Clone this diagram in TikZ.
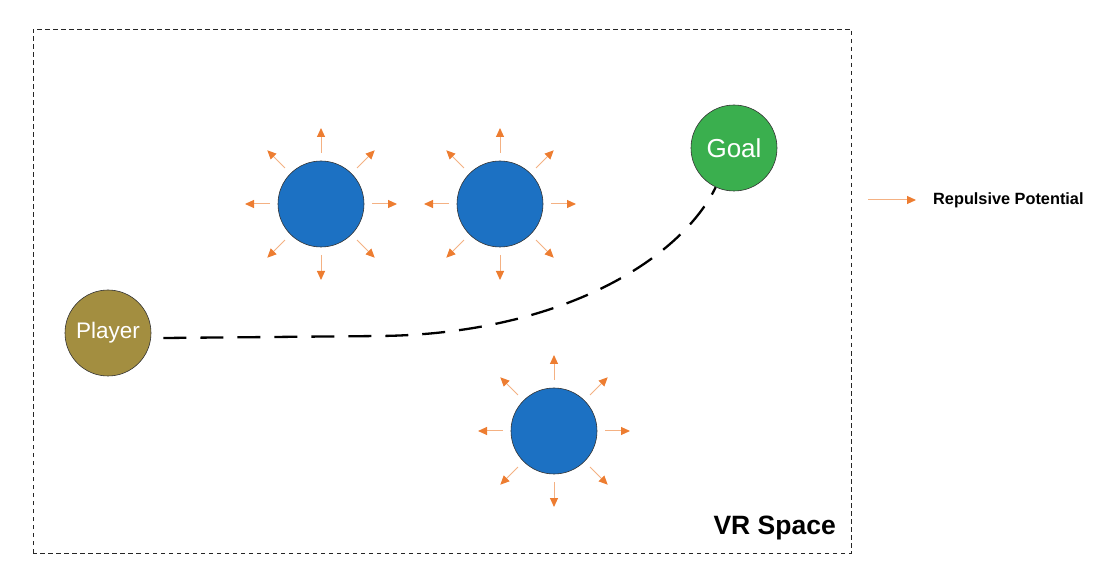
\documentclass[tikz,border=0pt]{standalone}
\usepackage{fontspec}
\setmainfont{Liberation Sans}
\usetikzlibrary{arrows.meta,calc}
\definecolor{obsblue}{HTML}{1C71C3}
\definecolor{goalgreen}{HTML}{3AAF4E}
\definecolor{playerolive}{HTML}{A38E40}
\definecolor{orD}{HTML}{ED7D31}
\definecolor{orL}{HTML}{F4B183}
\tikzset{
  x=1pt, y=1pt,
  ball/.style={circle, draw=black!80, line width=0.6pt, minimum size=86pt, inner sep=0pt, text=white},
  obstacle/.style={ball, fill=obsblue},
  repel/.style={draw=orL, line width=1pt, -{Triangle[length=9pt,width=8pt,color=orD,fill=orD]}},
  pathline/.style={line width=2.3pt, dash pattern=on 23pt off 14pt},
  frame/.style={draw=black!85, line width=0.9pt, dash pattern=on 4.5pt off 3.5pt},
}
\newcommand{\repulse}[1]{%
  \foreach \a in {0,45,...,315}{\draw[repel] ($(#1)+(\a:51)$) -- ($(#1)+(\a:76)$);}}
\begin{document}
\begin{tikzpicture}
\useasboundingbox (0,0) rectangle (1095,568);
\draw[frame] (33,15) rectangle (851,539);
\node[obstacle] (o1) at (321,364) {};
\node[obstacle] (o2) at (500,364) {};
\node[obstacle] (o3) at (554,137) {};
\repulse{o1}
\repulse{o2}
\repulse{o3}
\node[ball, fill=playerolive, font=\fontsize{22.5}{26}\selectfont] (player) at (108,235) {Player};
\node[ball, fill=goalgreen, font=\fontsize{26}{30}\selectfont] (goal) at (734,420) {Goal};
\coordinate (pstart) at ($(player.east)+(12,-5)$);
\coordinate (bend) at (380,232);
\draw[pathline] (pstart) -- (bend) .. controls (560,234) and (680,308) .. (goal.245);
\coordinate (legA) at (868,368);
\coordinate (legB) at (916,368);
\draw[repel] (legA) -- (legB);
\node[anchor=west, inner sep=0pt, font=\bfseries\fontsize{16.3}{19}\selectfont] (legtext) at (933,368) {Repulsive Potential};
\node[anchor=base east, inner sep=0pt, font=\bfseries\fontsize{26.5}{30}\selectfont] (vr) at (836,34) {VR Space};
\end{tikzpicture}
\end{document}
